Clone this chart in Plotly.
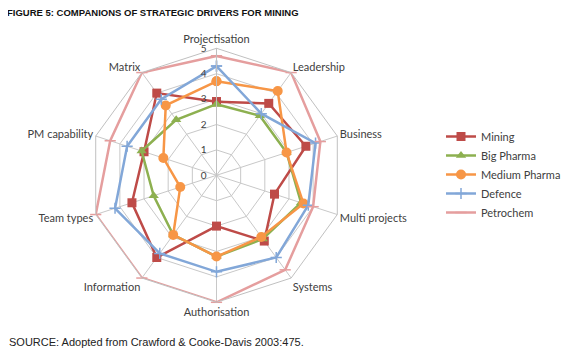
import plotly.graph_objects as go

categories = ["Projectisation", "Leadership", "Business", "Multi projects", "Systems",
              "Authorisation", "Information", "Team types", "PM capability", "Matrix"]

mining = [2.9, 3.5, 3.7, 2.4, 3.2, 2.0, 4.0, 3.5, 3.0, 4.0]
big_pharma = [2.8, 2.9, 2.9, 3.5, 3.1, 3.2, 2.9, 2.6, 3.1, 2.7]
medium_pharma = [3.7, 4.1, 2.9, 3.6, 3.0, 3.2, 2.9, 1.5, 2.2, 3.4]
defence = [4.3, 3.0, 4.1, 3.8, 4.0, 3.8, 3.8, 4.2, 3.7, 3.7]
petrochem = [4.7, 5.0, 4.3, 4.0, 4.6, 5.0, 5.0, 5.0, 4.4, 5.0]

series_names = ["Mining", "Big Pharma", "Medium Pharma", "Defence", "Petrochem"]
series_values = [mining, big_pharma, medium_pharma, defence, petrochem]
colors = ["#BE4B48", "#8DB050", "#F79646", "#82A7D8", "#E59E9E"]
symbols = ["square", "triangle-up", "circle", "cross-thin", "line-ew"]
marker_sizes = [9, 9, 10, 8, 8]
radial_ticks = [0, 1, 2, 3, 4, 5]

fig = go.Figure()
for name, vals, col, sym, ms in zip(series_names, series_values, colors, symbols, marker_sizes):
    thin = sym in ("cross-thin", "line-ew")
    fig.add_trace(go.Scatterpolar(
        r=vals + vals[:1],
        theta=categories + categories[:1],
        name=name,
        mode="lines+markers",
        line=dict(color=col, width=2.5),
        marker=dict(symbol=sym, size=ms, color=col,
                    line=dict(color=col, width=1.5 if thin else 0)),
    ))

# the page body adds an 8px offset; compensate
OFF = 8
side = 254
cx, cy = 216.5 - OFF, 175.3 - OFF
W, H = 580, 355
lab_font = dict(family="Lato, Open Sans, sans-serif", size=11, color="#404040")
fig.update_layout(
    width=W, height=H,
    margin=dict(l=0, r=0, t=0, b=0),
    paper_bgcolor="white",
    plot_bgcolor="white",
    showlegend=True,
    polar=dict(
        domain=dict(x=[(cx - side / 2) / W, (cx + side / 2) / W],
                    y=[1 - (cy + side / 2) / H, 1 - (cy - side / 2) / H]),
        bgcolor="white",
        gridshape="linear",
        angularaxis=dict(
            rotation=90, direction="clockwise",
            categoryorder="array", categoryarray=categories,
            showline=True, linecolor="#C0C0C0", linewidth=1,
            gridcolor="#C8C8C8", gridwidth=1,
            ticks="", tickfont=lab_font,
        ),
        radialaxis=dict(
            range=[0, 5], tickvals=radial_ticks, angle=90, tickangle=90,
            side="counterclockwise",
            ticks="outside", ticklen=6, tickcolor="rgba(0,0,0,0)",
            showline=True, linecolor="#C0C0C0", linewidth=1,
            gridcolor="#C8C8C8", gridwidth=1,
            tickfont=dict(family="Lato, Open Sans, sans-serif", size=10, color="#404040"),
        ),
    ),
    legend=dict(
        x=(441 - OFF) / W, y=1 - (122 - OFF) / H, xanchor="left", yanchor="top",
        font=lab_font,
        bgcolor="rgba(0,0,0,0)", itemwidth=30,
    ),
    annotations=[
        dict(text="<b>FIGURE 5: COMPANIONS OF STRATEGIC DRIVERS FOR MINING</b>",
             x=-3 / W, y=1 - (5 - OFF) / H, xref="paper", yref="paper", xanchor="left", yanchor="top",
             showarrow=False,
             font=dict(family="Liberation Sans Narrow, Arial Narrow, Liberation Sans, sans-serif",
                       size=9.5, color="#111111")),
        dict(text="SOURCE: Adopted from Crawford &amp; Cooke-Davis 2003:475.",
             x=-1 / W, y=1 - (334 - OFF) / H, xref="paper", yref="paper", xanchor="left", yanchor="top",
             showarrow=False,
             font=dict(family="Liberation Sans, Arial, sans-serif", size=11, color="#222222")),
    ],
)

fig.write_html("out.html")
